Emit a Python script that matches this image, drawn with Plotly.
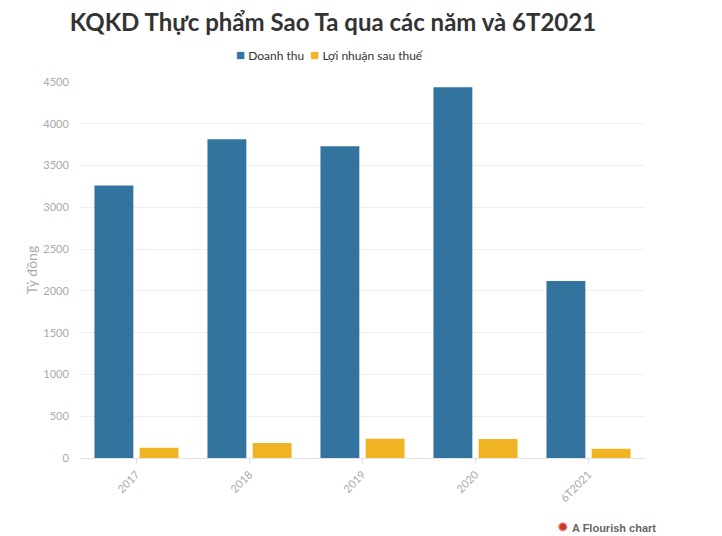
import plotly.graph_objects as go

categories = ["2017", "2018", "2019", "2020", "6T2021"]
doanh_thu = [3262, 3815, 3730, 4438, 2119]
loi_nhuan = [122, 181, 229, 226, 110]
y_ticks = [0, 500, 1000, 1500, 2000, 2500, 3000, 3500, 4000, 4500]
series_names = ["Doanh thu", "Lợi nhuận sau thuế"]

BLUE = "#33749f"
ORANGE = "#f0b323"
FONT = "Lato, 'Source Sans Pro', 'Open Sans', sans-serif"

fig = go.Figure()
fig.add_trace(go.Bar(name=series_names[0], x=categories, y=doanh_thu,
                     marker=dict(color=BLUE, line=dict(width=0))))
fig.add_trace(go.Bar(name=series_names[1], x=categories, y=loi_nhuan,
                     marker=dict(color=ORANGE, line=dict(width=0))))

# note: page body adds an 8px offset, margins compensate for it
fig.update_layout(
    width=722, height=536,
    margin=dict(l=72, r=85, t=74, b=86),
    paper_bgcolor="white", plot_bgcolor="white",
    barmode="group", bargap=0.2, bargroupgap=0.14,
    font=dict(family=FONT, color="#333"),
    title=dict(text="<b>KQKD Thực phẩm Sao Ta qua các năm và 6T2021</b>",
               x=0.45, xanchor="center", y=0.972, yanchor="middle",
               font=dict(size=24, color="#333", family=FONT)),
    showlegend=False,
)
fig.update_xaxes(
    type="category", tickangle=-45,
    tickfont=dict(size=11, color="#aaa"),
    showline=True, linecolor="#e2e2e2", linewidth=1,
    ticks="outside", ticklen=5, tickcolor="#e2e2e2",
    showgrid=False,
)
fig.update_yaxes(
    range=[0, 4500], tickvals=y_ticks,
    tickfont=dict(size=11, color="#aaa"),
    showgrid=True, gridcolor="#efefef", gridwidth=1,
    zeroline=False, showline=False,
    ticks="outside", ticklen=8, tickcolor="white",
    title=dict(text="Tỷ đồng", font=dict(size=14, color="#aaa"), standoff=2),
)
legend_text = (f"<span style='color:{BLUE};font-size:15px'>■</span> {series_names[0]}  "
               f"<span style='color:{ORANGE};font-size:15px'>■</span> {series_names[1]}")
fig.add_annotation(
    xref="paper", yref="paper", x=0.443, y=1.074, xanchor="center", yanchor="middle",
    text=legend_text, showarrow=False, font=dict(size=12, color="#333", family=FONT),
)
fig.add_annotation(
    xref="paper", yref="paper", x=1.023, y=-0.1835, xanchor="right", yanchor="middle",
    text="<span style='color:#d2352a;font-size:14px'>✹</span> <b>A Flourish chart</b>",
    showarrow=False, font=dict(size=11, color="#666", family="Arial, 'Liberation Sans', sans-serif"),
)

fig.write_html("out.html")
